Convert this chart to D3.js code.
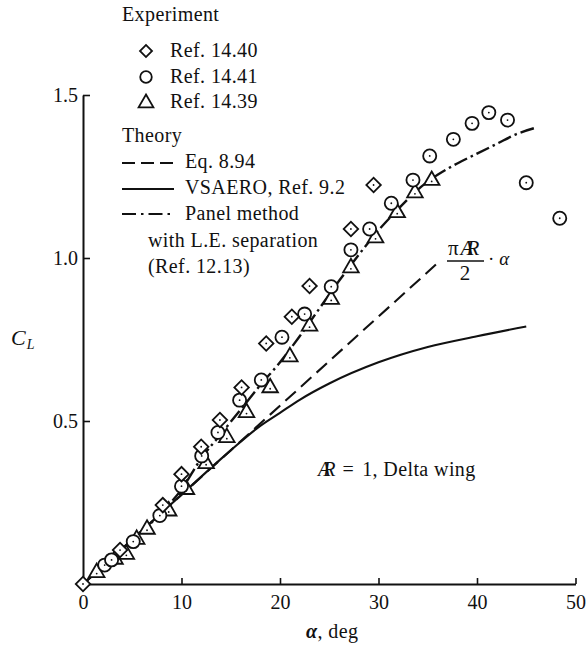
<!DOCTYPE html>
<html><head><meta charset="utf-8">
<script src="https://cdn.jsdelivr.net/npm/d3@7"></script>
<style>
html,body{margin:0;padding:0;background:#fff;}
svg text{font-family:"Liberation Serif","Times New Roman",serif;fill:#111;}
</style></head>
<body><svg id="c" width="587" height="646"></svg>
<script>
// ---- data (alpha in deg, CL) ----
const xTicks = [0, 10, 20, 30, 40, 50];
const yTicks = [0.5, 1.0, 1.5];
const yTickLabels = ["0.5", "1.0", "1.5"];

const ref1440Alpha = [0, 3.76, 8.1, 10.0, 12.0, 13.9, 16.1, 18.6, 21.2, 23.0, 27.2, 29.5];
const ref1440CL    = [0, 0.104, 0.242, 0.337, 0.421, 0.503, 0.603, 0.738, 0.82, 0.914, 1.089, 1.224];

const ref1441Alpha = [2.2, 2.9, 5.1, 7.8, 10.0, 12.05, 13.7, 15.9, 18.1, 20.2, 22.5, 25.2, 27.2, 29.1, 31.3, 33.5, 35.2, 37.6, 39.5, 41.2, 43.1, 45.0, 48.4];
const ref1441CL    = [0.058, 0.074, 0.13, 0.21, 0.30, 0.393, 0.465, 0.564, 0.626, 0.757, 0.828, 0.912, 1.025, 1.089, 1.168, 1.239, 1.313, 1.364, 1.413, 1.446, 1.423, 1.231, 1.122];

const ref1439Alpha = [1.39, 3.25, 4.4, 5.45, 6.5, 8.7, 10.5, 12.5, 14.6, 16.6, 19.0, 21.0, 23.0, 25.2, 27.2, 29.7, 31.9, 33.7, 35.4];
const ref1439CL    = [0.038, 0.079, 0.094, 0.14, 0.171, 0.227, 0.293, 0.372, 0.452, 0.529, 0.605, 0.70, 0.794, 0.876, 0.973, 1.065, 1.142, 1.203, 1.241];

const eqAlpha = [0, 36.2];
const eqCL    = [0, 0.99];

const vsaeroAlpha = [0, 5, 10, 15, 18, 20, 22, 25, 30, 35, 40, 45];
const vsaeroCL    = [0, 0.137, 0.274, 0.41, 0.485, 0.525, 0.565, 0.615, 0.68, 0.727, 0.76, 0.79];

const panelAlpha = [0, 5, 8, 10, 12, 14, 16, 18, 20, 22, 24, 26, 28, 30, 32, 34, 36, 38, 40, 42, 44, 46];
const panelCL    = [0, 0.135, 0.22, 0.29, 0.385, 0.46, 0.535, 0.61, 0.68, 0.76, 0.845, 0.93, 1.01, 1.085, 1.15, 1.21, 1.255, 1.29, 1.32, 1.35, 1.38, 1.40];

// ---- drawing ----
const svg = d3.select("#c");
const x = d3.scaleLinear().domain([0, 50]).range([83, 575.5]);
const y = d3.scaleLinear().domain([0, 1.5]).range([584, 95]);
const ink = "#111";

// axes
const xAxis = d3.axisBottom(x).tickValues(xTicks).tickSizeInner(-6).tickSizeOuter(0).tickPadding(11);
const gx = svg.append("g").attr("transform", `translate(0,${y(0)})`).call(xAxis);
gx.select(".domain").attr("stroke", ink).attr("stroke-width", 2);
gx.selectAll(".tick line").attr("stroke", ink).attr("stroke-width", 1.6);
gx.selectAll(".tick text").attr("font-size", 20).attr("font-family", "Liberation Serif").attr("fill", ink);

const yAxis = d3.axisLeft(y).tickValues(yTicks).tickFormat((d, i) => yTickLabels[i]).tickSizeInner(-7).tickSizeOuter(0).tickPadding(5);
const gy = svg.append("g").attr("transform", `translate(${x(0)},0)`).call(yAxis);
gy.select(".domain").attr("stroke", ink).attr("stroke-width", 2);
gy.selectAll(".tick line").attr("stroke", ink).attr("stroke-width", 1.6);
gy.selectAll(".tick text").attr("font-size", 20).attr("font-family", "Liberation Serif").attr("fill", ink).attr("dy", "0.33em");

// curves
const mk = (a, c) => a.map((v, i) => [v, c[i]]);
const line = d3.line().x(d => x(d[0])).y(d => y(d[1])).curve(d3.curveMonotoneX);
svg.append("path").attr("d", line(mk(vsaeroAlpha, vsaeroCL))).attr("fill", "none").attr("stroke", ink).attr("stroke-width", 2.1);
svg.append("path").attr("d", line(mk(eqAlpha, eqCL))).attr("fill", "none").attr("stroke", ink).attr("stroke-width", 2.1).attr("stroke-dasharray", "14,7");
svg.append("path").attr("d", line(mk(panelAlpha, panelCL))).attr("fill", "none").attr("stroke", ink).attr("stroke-width", 2.4).attr("stroke-dasharray", "14,4,2.5,4");

// markers
const sym = {
  diamond: d3.symbol().type(d3.symbolSquare).size(105),
  circle: d3.symbol().type(d3.symbolCircle).size(135),
  triangle: d3.symbol().type(d3.symbolTriangle).size(105)
};
function drawMarkers(a, c, type) {
  const g = svg.append("g");
  const pts = mk(a, c);
  g.selectAll("path.m").data(pts).join("path")
    .attr("d", sym[type]())
    .attr("transform", d => `translate(${x(d[0])},${y(d[1]) + (type === "triangle" ? 1 : 0)})${type === "diamond" ? " rotate(45)" : ""}`)
    .attr("fill", "#fff").attr("stroke", ink).attr("stroke-width", 1.8);
  g.selectAll("circle.dot").data(pts).join("circle")
    .attr("cx", d => x(d[0])).attr("cy", d => y(d[1]) + (type === "triangle" ? 2 : 0)).attr("r", 0.9).attr("fill", ink);
}
drawMarkers(ref1439Alpha, ref1439CL, "triangle");
drawMarkers(ref1441Alpha, ref1441CL, "circle");
drawMarkers(ref1440Alpha, ref1440CL, "diamond");

// legend
const fs = 20;
const txt = (tx, ty, s) => svg.append("text").attr("x", tx).attr("y", ty).attr("font-size", fs).attr("letter-spacing", 0.4).text(s);
txt(122, 21, "Experiment");
svg.append("path").attr("d", sym.diamond.size(72)()).attr("transform", "translate(146,51) rotate(45)").attr("fill", "none").attr("stroke", ink).attr("stroke-width", 1.8);
svg.append("path").attr("d", sym.circle.size(105)()).attr("transform", "translate(146,77)").attr("fill", "none").attr("stroke", ink).attr("stroke-width", 1.8);
svg.append("path").attr("d", sym.triangle.size(95)()).attr("transform", "translate(146,103)").attr("fill", "none").attr("stroke", ink).attr("stroke-width", 1.8);
txt(170, 57, "Ref. 14.40");
txt(170, 83, "Ref. 14.41");
txt(170, 108, "Ref. 14.39");
txt(122, 142, "Theory");
svg.append("line").attr("x1", 122).attr("x2", 174).attr("y1", 163).attr("y2", 163).attr("stroke", ink).attr("stroke-width", 2.1).attr("stroke-dasharray", "13,6");
svg.append("line").attr("x1", 122).attr("x2", 174).attr("y1", 189).attr("y2", 189).attr("stroke", ink).attr("stroke-width", 2.1);
svg.append("line").attr("x1", 122).attr("x2", 174).attr("y1", 214).attr("y2", 214).attr("stroke", ink).attr("stroke-width", 2.1).attr("stroke-dasharray", "14,5,2.5,5");
txt(185, 168, "Eq. 8.94");
txt(185, 194, "VSAERO, Ref. 9.2");
txt(185, 220, "Panel method");
txt(148, 247, "with L.E. separation");
txt(148, 273, "(Ref. 12.13)");

// axis titles
const cl = svg.append("text").attr("x", 11).attr("y", 345).attr("font-size", 22).attr("font-style", "italic");
cl.append("tspan").text("C");
cl.append("tspan").attr("font-size", 14).attr("dy", 4).attr("dx", 1).text("L");
const at = svg.append("text").attr("x", 306).attr("y", 638).attr("font-size", fs).attr("letter-spacing", 0.4);
at.append("tspan").attr("font-style", "italic").attr("font-weight", "bold").text("α");
at.append("tspan").text(", deg");

// annotations
const num = svg.append("text").attr("x", 448).attr("y", 255).attr("font-size", 21);
num.append("tspan").text("π");
num.append("tspan").attr("font-style", "italic").attr("dx", 2).attr("letter-spacing", -7).text("AR");
svg.append("line").attr("x1", 447).attr("x2", 484).attr("y1", 261).attr("y2", 261).attr("stroke", ink).attr("stroke-width", 1.3);
svg.append("text").attr("x", 465).attr("y", 280).attr("font-size", 21).attr("text-anchor", "middle").text("2");
const al = svg.append("text").attr("x", 488).attr("y", 265).attr("font-size", 19);
al.append("tspan").text("·");
al.append("tspan").attr("dx", 5).attr("font-style", "italic").text("α");

const ar = svg.append("text").attr("x", 318).attr("y", 476).attr("font-size", fs).attr("letter-spacing", 0.4);
ar.append("tspan").attr("font-style", "italic").attr("letter-spacing", -7).text("AR");
ar.append("tspan").attr("dx", 14).text("=");
ar.append("tspan").attr("dx", 8).text("1, Delta wing");
</script></body></html>
